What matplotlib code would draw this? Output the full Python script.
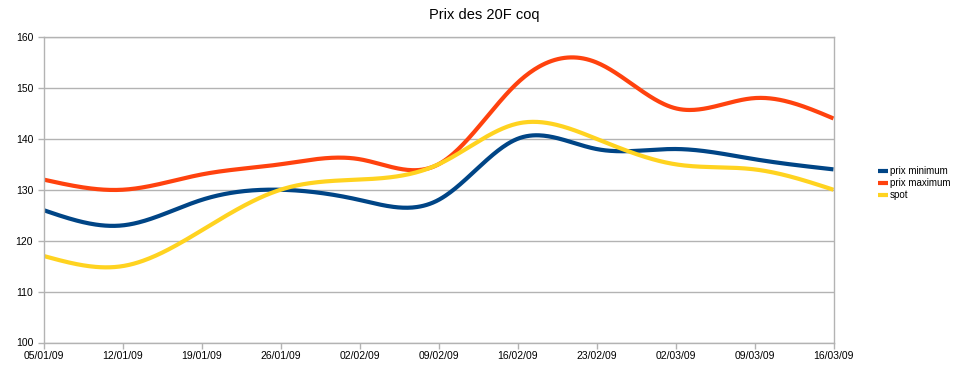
import numpy as np
import matplotlib
matplotlib.use("Agg")
import matplotlib.pyplot as plt

plt.rcParams["font.family"] = ["Liberation Sans", "DejaVu Sans"]

dates = ["05/01/09", "12/01/09", "19/01/09", "26/01/09", "02/02/09", "09/02/09",
         "16/02/09", "23/02/09", "02/03/09", "09/03/09", "16/03/09"]
prix_minimum = [126, 123, 128, 130, 128, 128, 140, 138, 138, 136, 134]
prix_maximum = [132, 130, 133, 135, 136, 135, 151, 155, 146, 148, 144]
spot = [117, 115, 122, 130, 132, 135, 143, 140, 135, 134, 130]

series = [
    ("prix minimum", prix_minimum, "#004586"),
    ("prix maximum", prix_maximum, "#ff420e"),
    ("spot", spot, "#ffd320"),
]


def natural_spline(x, y, xs):
    # natural cubic spline, same smoothing as the spreadsheet chart
    x = np.asarray(x, float)
    y = np.asarray(y, float)
    n = len(x)
    h = np.diff(x)
    A = np.zeros((n, n))
    b = np.zeros(n)
    A[0, 0] = A[-1, -1] = 1
    for i in range(1, n - 1):
        A[i, i - 1] = h[i - 1]
        A[i, i] = 2 * (h[i - 1] + h[i])
        A[i, i + 1] = h[i]
        b[i] = 3 * ((y[i + 1] - y[i]) / h[i] - (y[i] - y[i - 1]) / h[i - 1])
    c = np.linalg.solve(A, b)
    idx = np.clip(np.searchsorted(x, xs) - 1, 0, n - 2)
    dx = xs - x[idx]
    bb = (y[idx + 1] - y[idx]) / h[idx] - h[idx] * (2 * c[idx] + c[idx + 1]) / 3
    dd = (c[idx + 1] - c[idx]) / (3 * h[idx])
    return y[idx] + bb * dx + c[idx] * dx ** 2 + dd * dx ** 3


fig = plt.figure(figsize=(9.68, 3.77), dpi=100)
W, H = 968, 377
ax = fig.add_axes([43.5 / W, 1 - 342.5 / H, (833.5 - 43.5) / W, (342.5 - 37) / H])

xi = np.arange(len(dates))
xs = np.linspace(0, len(dates) - 1, 500)
for name, vals, color in series:
    ax.plot(xs, natural_spline(xi, vals, xs), color=color, lw=3, label=name,
            solid_capstyle="butt")

ax.set_xlim(0, len(dates) - 1)
ax.set_ylim(100, 160)
ax.set_xticks(xi)
ax.set_xticklabels(dates)
ax.set_yticks(range(100, 161, 10))
ax.yaxis.grid(True, color="#b3b3b3", lw=1)
ax.set_axisbelow(True)
for s in ax.spines.values():
    s.set_color("#b3b3b3")
    s.set_linewidth(1)
ax.tick_params(colors="#b3b3b3", labelcolor="black", labelsize=7.5, length=4, width=1)
ax.tick_params(axis="x", pad=2)

fig.text(0.5, 1 - 15 / H, "Prix des 20F coq", ha="center", va="center", fontsize=10.5)

fig.legend(loc="center left", bbox_to_anchor=(874 / W, 1 - 183 / H), frameon=False,
           fontsize=7, handlelength=1.0, handletextpad=0.2, labelspacing=0.2,
           borderaxespad=0)

fig.savefig("out.png", dpi=100)
